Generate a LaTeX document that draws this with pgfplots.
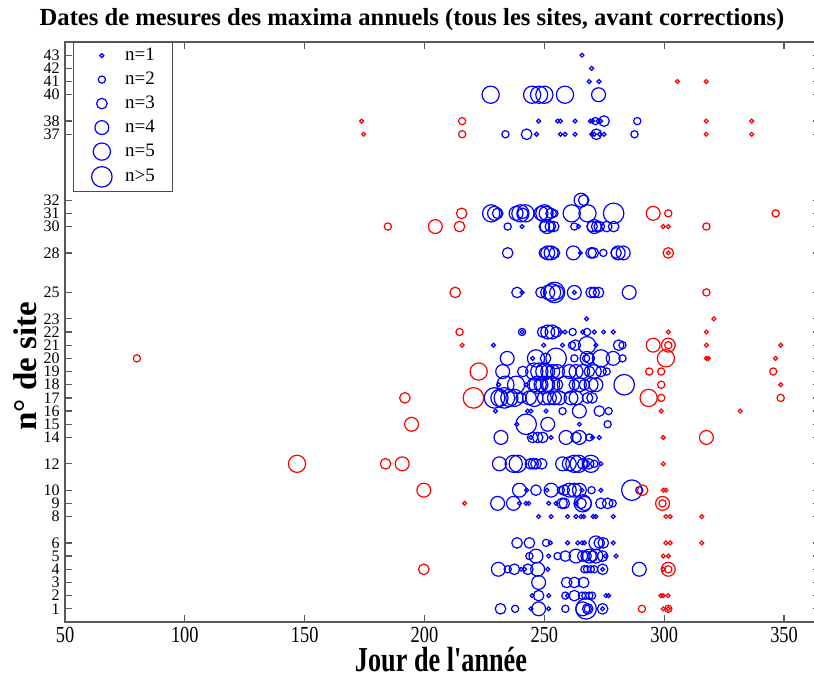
\documentclass[border=0pt]{standalone}
\usepackage{fontspec}
\setmainfont{Liberation Serif}
\newfontfamily\tickfont{Liberation Serif}[FakeStretch=0.8]
\newfontfamily\labfont{Liberation Serif}[FakeStretch=0.75]
\usepackage{pgfplots}
\pgfplotsset{compat=1.18}
\usepackage{pgfplotstable}
\definecolor{mblue}{RGB}{0,0,255}
\definecolor{mred}{RGB}{255,0,0}

\pgfplotstableread{
x y n
265.7 43 1
269.7 42 1
268.7 41 1
272.8 41 1
227.6 40 5
244.9 40 5
247.8 40 5
250.0 40 5
258.6 40 5
272.6 40 4
247.6 38 1
255.5 38 1
256.7 38 1
262.8 38 1
269.2 38 1
270.1 38 1
271.3 38 2
272.4 38 1
273.5 38 1
274.9 38 3
288.75 38 2
233.75 37 2
242.6 37 3
246.7 37 1
256.7 37 1
258.6 37 1
262.8 37 1
269.7 37 1
270.8 37 1
271.7 37 3
273.0 37 1
274.9 37 1
287.6 37 2
265.3 32 4
266.4 32 3
227.8 31 5
229.2 31 4
230.5 31 3
238.2 31 4
240.0 31 5
241.0 31 3
242.1 31 5
248.6 31 4
250.0 31 5
250.7 31 4
252.8 31 3
254.2 31 2
261.4 31 5
268.0 31 5
278.9 31 6
234.7 30 2
240.7 30 1
250.0 30 3
251.1 30 4
252.5 30 3
253.9 30 3
262.5 30 2
264.3 30 1
269.9 30 3
270.8 30 4
271.8 30 3
272.9 30 3
276.0 30 3
278.9 30 3
234.7 28 3
250.0 28 3
251.4 28 4
252.8 28 4
254.2 28 3
262.1 28 4
265.0 28 1
269.5 28 3
270.4 28 3
274.6 28 2
279.9 28 3
280.8 28 4
282.9 28 4
238.6 25 3
240.7 25 1
248.6 25 3
251.4 25 4
253.2 25 5
254.2 25 6
255.1 25 4
262.5 25 4
262.5 25 1
269.5 25 3
270.8 25 3
272.6 25 3
285.4 25 4
267.6 23 1
240.7 22 2
240.7 22 1
249.3 22 3
251.4 22 4
253.2 22 4
254.9 22 3
256.9 22 1
258.6 22 1
261.8 22 2
266.0 22 1
267.8 22 2
270.8 22 1
274.7 22 1
278.75 22 1
228.75 21 1
249.7 21 1
257.6 21 1
261.5 21 2
262.9 21 3
267.8 21 5
271.5 21 1
281.0 21 3
282.6 21 2
234.5 20 4
245.1 20 1
246.5 20 5
250.5 20 3
254.9 20 6
262.5 20 2
267.4 20 2
267.8 20 4
268.75 20 3
273.6 20 5
278.7 20 4
282.6 20 2
232.6 19 4
241.0 19 3
245.8 19 5
247.9 19 5
250.0 19 5
251.4 19 4
253.5 19 4
255.5 19 4
260.4 19 4
263.2 19 4
266.0 19 4
268.75 19 3
270.8 19 4
273.6 19 3
276.0 19 2
231.0 18 1
233.75 18 5
238.2 18 5
242.4 18 1
245.8 18 4
247.2 18 5
248.6 18 4
250.0 18 5
251.4 18 4
252.8 18 5
255.5 18 3
259.0 18 5
262.5 18 3
264.6 18 4
266.7 18 3
269.5 18 4
271.5 18 4
283.3 18 6
229.2 17 6
231.25 17 5
233.3 17 6
235.4 17 5
237.5 17 5
240.3 17 3
243.75 17 4
245.8 17 5
250.0 17 4
252.1 17 4
254.2 17 4
256.25 17 4
261.1 17 4
263.2 17 4
268.0 17 3
269.9 17 3
229.6 16 1
243.0 16 1
244.4 16 1
250.7 16 1
257.6 16 2
264.6 16 4
272.9 16 3
276.8 16 2
238.5 15 1
242.4 15 6
251.4 15 4
264.6 15 1
276.4 15 2
231.9 14 4
244.4 14 1
245.1 14 3
247.2 14 3
249.3 14 3
252.8 14 1
259.0 14 4
263.2 14 3
264.6 14 4
268.75 14 2
270.1 14 1
272.9 14 1
231.25 12 4
237.2 12 5
238.9 12 5
244.2 12 3
245.4 12 3
246.5 12 3
248.9 12 3
257.6 12 4
260.4 12 4
262.5 12 5
264.3 12 5
266.0 12 3
267.4 12 2
268.5 12 3
269.4 12 5
270.8 12 2
273.6 12 1
239.6 10 4
242.6 10 1
246.5 10 3
251.1 10 1
252.8 10 4
256.9 10 2
258.3 10 3
260.4 10 4
262.5 10 4
264.6 10 4
265.7 10 1
269.7 10 2
273.6 10 1
286.5 10 6
289.6 10 2
230.5 9 4
237.1 9 4
239.6 9 1
242.4 9 1
243.5 9 1
251.8 9 1
254.9 9 1
257.4 9 3
258.3 9 3
263.2 9 1
265.3 9 3
266.0 9 5
266.7 9 4
273.6 9 3
276.4 9 3
278.5 9 2
247.6 8 1
252.8 8 1
259.7 8 1
263.2 8 1
265.3 8 1
266.4 8 1
270.4 8 1
271.5 8 1
278.75 8 1
238.6 6 3
243.75 6 3
250.7 6 2
252.5 6 1
259.7 6 1
263.9 6 1
265.7 6 1
266.7 6 1
271.5 6 4
272.9 6 3
274.6 6 3
278.75 6 1
243.75 5 2
246.5 5 4
251.8 5 1
255.5 5 2
258.75 5 3
263.2 5 4
266.0 5 3
267.4 5 3
268.75 5 4
270.1 5 3
271.5 5 4
274.3 5 3
275.4 5 1
279.9 5 1
230.8 4 4
234.7 4 2
237.5 4 3
240.3 4 1
241.7 4 1
243.1 4 3
247.2 4 4
251.4 4 1
266.7 4 2
267.8 4 2
269.4 4 2
270.8 4 2
274.3 4 3
274.3 4 1
289.6 4 4
247.6 3 4
259.3 3 3
262.5 3 3
266.4 3 3
244.9 2 1
247.6 2 3
251.8 2 1
258.75 2 2
259.7 2 1
262.5 2 3
265.7 2 2
267.1 2 2
268.75 2 2
269.9 2 2
275.7 2 1
276.8 2 1
231.7 1 3
237.8 1 2
244.4 1 1
247.6 1 4
251.8 1 1
258.75 1 2
266.0 1 4
267.4 1 6
268.1 1 3
268.1 1 2
274.3 1 3
274.3 1 1
}\bluedata

\pgfplotstableread{
x y n
173.75 38 1
174.6 37 1
215.7 38 2
215.7 37 2
305.5 41 1
317.5 41 1
317.5 38 1
336.5 38 1
317.5 37 1
336.5 37 1
215.5 31 3
295.4 31 4
301.7 31 2
346.5 31 2
184.7 30 2
204.5 30 4
214.6 30 3
299.6 30 1
301.7 30 1
317.6 30 2
301.7 28 3
301.7 28 1
212.8 25 3
317.6 25 2
320.7 23 1
214.6 22 2
301.7 22 1
317.6 22 1
215.7 21 1
295.4 21 4
301.7 21 4
301.7 21 2
317.6 21 1
348.6 21 1
80.0 20 2
300.7 20 5
317.6 20 1
318.4 20 1
346.5 20 1
222.6 19 5
293.75 19 2
298.75 19 2
345.5 19 2
298.75 18 2
348.6 18 1
191.8 17 3
220.4 17 6
293.5 17 5
298.75 17 2
348.6 17 2
298.75 16 1
331.7 16 1
194.6 15 4
299.6 14 1
317.6 14 4
146.8 12 5
183.75 12 3
190.7 12 4
299.6 12 1
199.7 10 4
291.0 10 3
299.6 10 1
300.7 10 1
216.7 9 1
299.3 9 4
299.3 9 2
300.7 8 1
302.5 8 1
315.7 8 1
300.7 6 1
302.5 6 1
315.7 6 1
299.6 5 1
301.7 5 1
199.7 4 3
301.7 4 4
301.7 4 2
299.6 4 1
298.6 2 1
299.6 2 1
301.7 2 1
290.7 1 2
299.6 1 1
301.7 1 2
301.7 1 1
}\reddata

\pgfplotsset{
  sizedmarks/.style={
    scatter, only marks, mark=o,
    mark options={line width=0.6pt},
    scatter/use mapped color={draw=#1, fill=none},
    visualization depends on={\thisrow{n} \as \msz},
    scatter/@pre marker code/.append style={/tikz/mark size={0.15pt+0.83pt*\msz}},
  },
}

\begin{document}
\begin{tikzpicture}
\begin{axis}[
  name=ax,
  scale only axis,
  width=377.5pt, height=290pt,
  xmin=50, xmax=365, ymin=0, ymax=44,
  xtick={50,100,...,350},
  ytick={1,2,3,4,5,6,8,9,10,12,14,15,16,17,18,19,20,21,22,23,25,28,30,31,32,37,38,40,41,42,43},
  /pgf/number format/assume math mode=true,
  tick align=inside,
  major tick length=3.5pt,
  tick style={black!65, line width=0.6pt},
  axis line style={black!65, line width=0.8pt},
  xticklabel style={font=\tickfont\fontsize{11.5}{12}\selectfont, anchor=center, inner sep=0pt, yshift=-6.5pt},
  yticklabel style={font=\fontsize{8}{8}\selectfont, anchor=east, inner sep=0pt, xshift=-2.5pt},
  title={Dates de mesures des maxima annuels (tous les sites, avant corrections)},
  title style={at={(axis description cs:0.4596,1)}, anchor=center, yshift=5pt, font=\bfseries\fontsize{12.3}{14}\selectfont},
  xlabel={Jour de l'année},
  xlabel style={at={(axis description cs:0.498,0)}, anchor=center, yshift=-19pt, inner sep=0pt, font=\labfont\bfseries\fontsize{17.5}{19}\selectfont},
  ylabel={n° de site},
  ylabel style={at={(axis description cs:-0.053,0.441)}, anchor=center, font=\bfseries\fontsize{16.5}{18}\selectfont},
  legend style={at={(axis description cs:0.0106,1)}, anchor=north west, draw=black!70, line width=0.6pt,
    inner xsep=9pt, inner ysep=2pt, row sep=3pt,
    font=\fontsize{9.5}{10}\selectfont,
    nodes={inner sep=0pt, text height=7pt, text depth=2pt}},
  legend cell align=left,
]
\addlegendimage{only marks, mark=o, draw=mblue, mark options={line width=0.6pt}, mark size=0.98pt}
\addlegendentry{\hspace{6.5pt}n=1}
\addlegendimage{only marks, mark=o, draw=mblue, mark options={line width=0.6pt}, mark size=1.81pt}
\addlegendentry{\hspace{6.5pt}n=2}
\addlegendimage{only marks, mark=o, draw=mblue, mark options={line width=0.6pt}, mark size=2.64pt}
\addlegendentry{\hspace{6.5pt}n=3}
\addlegendimage{only marks, mark=o, draw=mblue, mark options={line width=0.6pt}, mark size=3.47pt}
\addlegendentry{\hspace{6.5pt}n=4}
\addlegendimage{only marks, mark=o, draw=mblue, mark options={line width=0.6pt}, mark size=4.3pt}
\addlegendentry{\hspace{6.5pt}n=5}
\addlegendimage{only marks, mark=o, draw=mblue, mark options={line width=0.6pt}, mark size=5.13pt}
\addlegendentry{\hspace{6.5pt}n>5}
\addplot[sizedmarks=mblue, forget plot] table[x=x, y=y] {\bluedata};
\addplot[sizedmarks=mred, forget plot] table[x=x, y=y] {\reddata};
\end{axis}
\pgfresetboundingbox
\path ([xshift=-32.5pt,yshift=-28.5pt]ax.south west) rectangle ([xshift=374.5pt,yshift=311pt]ax.south west);
\end{tikzpicture}
\end{document}
